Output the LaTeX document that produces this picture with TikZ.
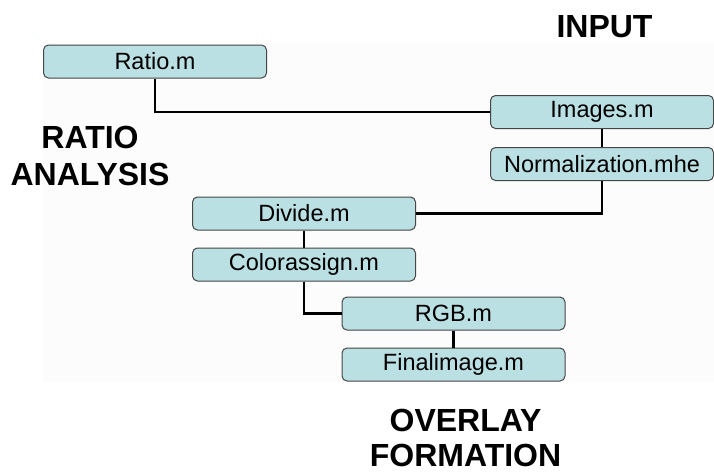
\documentclass[tikz,border=0pt]{standalone}
\usepackage{fontspec}
\setmainfont{Liberation Sans}
\usetikzlibrary{positioning}

\definecolor{modfill}{RGB}{187,224,227}
\definecolor{modline}{RGB}{70,70,70}

\begin{document}
\begin{tikzpicture}[
    x=1pt, y=-1pt,
    node distance=17pt,
    modnode/.style={rectangle, rounded corners=5pt, draw=modline, line width=1pt, fill=modfill, minimum width=223pt, minimum height=33pt, inner sep=0pt, font=\fontsize{23.5}{26}\selectfont},
    headnode/.style={align=center, inner sep=1pt, font=\fontsize{32}{37}\selectfont\bfseries},
    link/.style={line width=2.5pt}
]
    \useasboundingbox (0,0) rectangle (714,474);
    \fill[black!1] (43,43) rectangle (714,382);

    % Input
    \node[headnode, anchor=base] (input) at (604.5,37) {INPUT};
    \node[modnode] (images) at (602,112) {Images.m};
    \node[modnode, below=18pt of images] (norm) {Normalization.mhe};

    % Ratio analysis
    \node[headnode, anchor=base] (ratiohead) at (90,185) {RATIO\\ANALYSIS};
    \node[modnode] (ratio) at (155,61.5) {Ratio.m};
    \node[modnode] (divide) at (304,213.5) {Divide.m};
    \node[modnode, below=of divide] (color) {Colorassign.m};

    % Overlay formation
    \node[modnode] (rgb) at (453.5,313.5) {RGB.m};
    \node[modnode, below=of rgb] (final) {Finalimage.m};
    \node[headnode, anchor=base] (overlayhead) at (465.5,466) {OVERLAY\\[-2pt]FORMATION};

    \draw[link] (ratio.south) |- (images.west);
    \draw[link] (images) -- (norm);
    \draw[link] (norm.south) |- (divide.east);
    \draw[link] (divide) -- (color);
    \draw[link] (color.south) |- (rgb.west);
    \draw[link] (rgb) -- (final);
\end{tikzpicture}
\end{document}
